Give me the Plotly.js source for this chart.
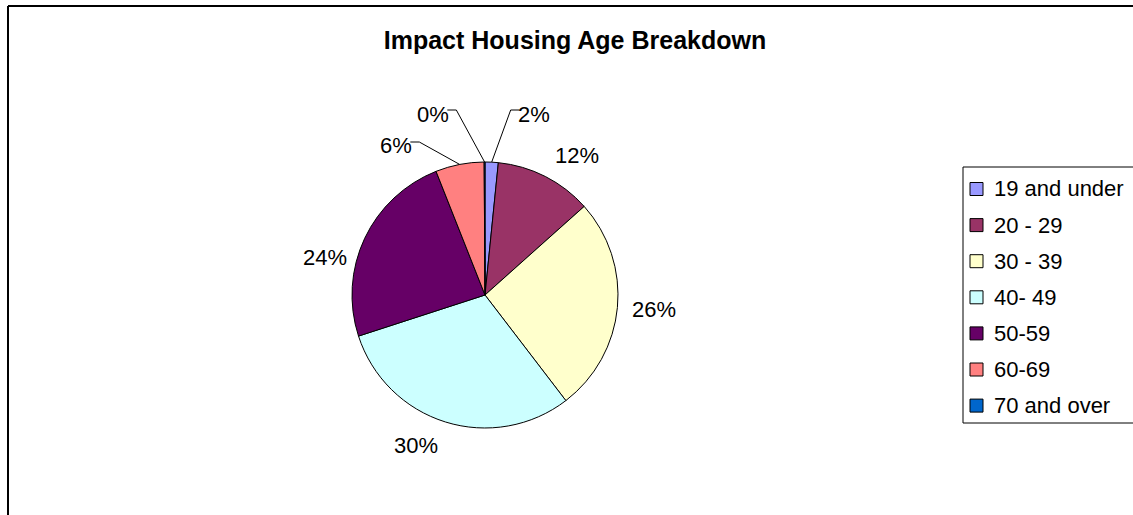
<!DOCTYPE html>
<html>
<head>
<meta charset="utf-8">
<script src="https://cdn.plot.ly/plotly-3.0.1.min.js"></script>
<style>html,body{margin:0;padding:0;background:#fff;}#chart{width:1133px;height:515px;}</style>
</head>
<body>
<div id="chart"></div>
<script>
// ---- data ----
const categories = ['19 and under', '20 - 29', '30 - 39', '40- 49', '50-59', '60-69', '70 and over'];
const shares = [1.6, 11.8, 26.2, 30.4, 24.0, 5.9, 0.1];
const sliceColors = ['#9999FF', '#993366', '#FFFFCC', '#CCFFFF', '#660066', '#FF8080', '#0066CC'];
const chartTitle = 'Impact Housing Age Breakdown';

// ---- layout config (pixels) ----
const W = 1133, H = 515;
const pieCenter = [485, 295], pieR = 133;
// label centre offsets from the pie centre (px) and whether a leader line is drawn
const labelOffset = [[49, -181], [92, -139], [169, 14], [-69, 150], [-160, -38], [-89, -149], [-52, -181]];
const leader = [true, false, false, false, false, true, true];
const fontFam = 'Arial, "Liberation Sans", sans-serif';
const FS = 22;

const px = v => v / W, py = v => 1 - v / H;

const total = shares.reduce((a, b) => a + b, 0);
const annotations = [], shapes = [];
let cum = 0;
shares.forEach((v, i) => {
  const mid = (cum + v / 2) / total * 2 * Math.PI;
  cum += v;
  const pct = Math.round(v / total * 100) + '%';
  const cx = pieCenter[0] + labelOffset[i][0], cy = pieCenter[1] + labelOffset[i][1];
  annotations.push({x: px(cx), y: py(cy), xref: 'paper', yref: 'paper', text: pct, showarrow: false,
    xanchor: 'center', yanchor: 'middle', font: {family: fontFam, size: FS, color: '#000'}});
  if (leader[i]) {
    const ex = pieCenter[0] + pieR * Math.sin(mid), ey = pieCenter[1] - pieR * Math.cos(mid);
    const halfW = pct.length * FS * 0.28;
    const side = cx < pieCenter[0] ? 1 : -1; // attach on side facing pie
    const sx = cx + side * (halfW + 2), hy = cy - 4;
    const kx = sx + side * 9;
    shapes.push({type: 'path', xref: 'paper', yref: 'paper',
      path: `M ${px(sx)} ${py(hy)} L ${px(kx)} ${py(hy)} L ${px(ex)} ${py(ey)}`,
      line: {color: '#000', width: 1}});
  }
});

// frame
shapes.push({type: 'line', xref: 'paper', yref: 'paper', x0: px(8), x1: px(1140), y0: py(6), y1: py(6), line: {color: '#000', width: 2}});
shapes.push({type: 'line', xref: 'paper', yref: 'paper', x0: px(8), x1: px(8), y0: py(6), y1: py(520), line: {color: '#000', width: 2}});

// legend box
const legL = 963, legT = 167, legB = 423, legStep = 36.1, legY0 = 189;
shapes.push({type: 'rect', xref: 'paper', yref: 'paper', x0: px(legL), x1: px(1140), y0: py(legT), y1: py(legB),
  line: {color: '#000', width: 1}, fillcolor: 'rgba(0,0,0,0)'});
categories.forEach((c, i) => {
  const yc = legY0 + i * legStep;
  shapes.push({type: 'rect', xref: 'paper', yref: 'paper', x0: px(970), x1: px(983), y0: py(yc - 6.5), y1: py(yc + 6.5),
    line: {color: '#000', width: 1}, fillcolor: sliceColors[i]});
  annotations.push({x: px(992), y: py(yc), xref: 'paper', yref: 'paper', text: c, showarrow: false,
    xanchor: 'left', yanchor: 'middle', font: {family: fontFam, size: FS, color: '#000'}});
});

const trace = {
  type: 'pie', values: shares, labels: categories, sort: false, direction: 'clockwise', rotation: 0,
  marker: {colors: sliceColors, line: {color: '#000', width: 1}},
  textinfo: 'none', hoverinfo: 'label+percent', showlegend: false,
  domain: {x: [px(pieCenter[0] - pieR), px(pieCenter[0] + pieR)], y: [py(pieCenter[1] + pieR), py(pieCenter[1] - pieR)]}
};

const layout = {
  width: W, height: H, margin: {l: 0, r: 0, t: 0, b: 0},
  paper_bgcolor: '#fff', plot_bgcolor: '#fff',
  title: {text: '<b>' + chartTitle + '</b>', x: px(575), xanchor: 'center', y: py(40), yanchor: 'middle',
    font: {family: fontFam, size: 25, color: '#000'}},
  showlegend: false, annotations, shapes
};
Plotly.newPlot('chart', [trace], layout, {displayModeBar: false, staticPlot: true});
</script>
</body>
</html>
